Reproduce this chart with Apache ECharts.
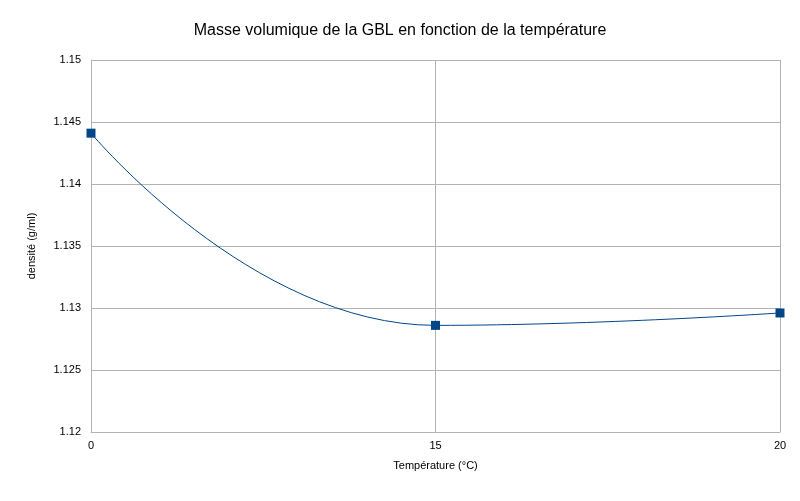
<!DOCTYPE html>
<html>
<head>
<meta charset="utf-8">
<script src="https://cdn.jsdelivr.net/npm/echarts@6/dist/echarts.min.js"></script>
<style>html,body{margin:0;padding:0;background:#fff}#c{width:800px;height:501px}</style>
</head>
<body>
<div id="c"></div>
<script>
var temperatures = ['0', '15', '20']
var densities = [1.1441, 1.1286, 1.1296]

var chart = echarts.init(document.getElementById('c'))
chart.setOption({
  animation: false,
  title: {
    text: 'Masse volumique de la GBL en fonction de la température',
    left: 'center', top: 18,
    textStyle: { fontFamily: 'Liberation Sans', fontSize: 16, fontWeight: 'normal', color: '#000' }
  },
  grid: { left: 91, right: 20, top: 60, bottom: 69 },
  xAxis: {
    type: 'category', data: temperatures, boundaryGap: false,
    name: 'Température (°C)', nameLocation: 'middle', nameGap: 28,
    nameTextStyle: { fontFamily: 'Liberation Sans', fontSize: 11, color: '#000' },
    axisLine: { lineStyle: { color: '#b3b3b3' } },
    axisTick: { show: false },
    axisLabel: { fontFamily: 'Liberation Sans', fontSize: 11, color: '#000', margin: 8 },
    splitLine: { show: true, lineStyle: { color: '#b3b3b3' } }
  },
  yAxis: {
    type: 'value', min: 1.12, max: 1.15, interval: 0.005,
    name: 'densité (g/ml)', nameLocation: 'middle', nameGap: 54,
    nameTextStyle: { fontFamily: 'Liberation Sans', fontSize: 11, color: '#000' },
    axisLine: { show: true, lineStyle: { color: '#b3b3b3' } },
    axisTick: { show: false },
    axisLabel: { fontFamily: 'Liberation Sans', fontSize: 11, color: '#000', margin: 10,
      formatter: function (v) { return String(+v.toFixed(3)) } },
    splitLine: { lineStyle: { color: '#b3b3b3' } }
  },
  series: [{
    type: 'line', data: densities, smooth: 0.5,
    symbol: 'rect', symbolSize: 9,
    lineStyle: { color: '#004586', width: 1 },
    itemStyle: { color: '#004586' }
  }]
})
</script>
</body>
</html>
